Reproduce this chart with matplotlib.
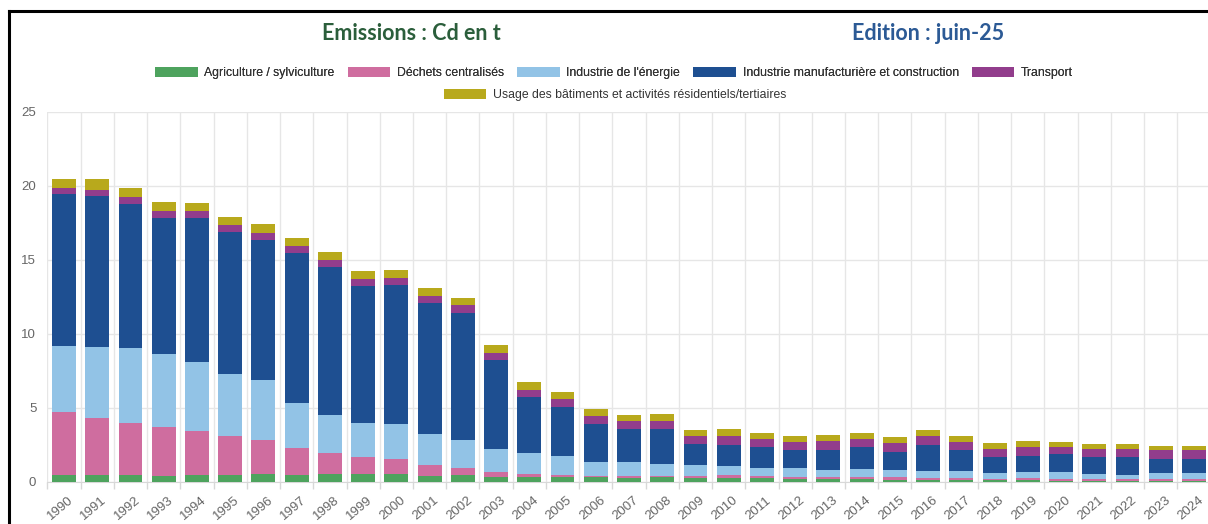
import matplotlib.pyplot as plt
from matplotlib.lines import Line2D
import matplotlib.transforms as mtransforms
import numpy as np

plt.rcParams['font.family'] = ['Liberation Sans', 'DejaVu Sans']

# -----------------------------
# Data (t of Cd)
# -----------------------------
years = [str(y) for y in range(1990, 2025)]

agriculture = [0.45, 0.45, 0.43, 0.41, 0.43, 0.43, 0.52, 0.47, 0.54, 0.54, 0.54,
               0.41, 0.43, 0.29, 0.29, 0.29, 0.29, 0.25, 0.32, 0.27, 0.27, 0.23,
               0.20, 0.16, 0.16, 0.14, 0.11, 0.11, 0.09, 0.09, 0.07, 0.07, 0.07,
               0.07, 0.07]
dechets = [4.28, 3.85, 3.56, 3.26, 2.99, 2.66, 2.30, 1.80, 1.42, 1.13, 1.01,
           0.69, 0.49, 0.39, 0.23, 0.16, 0.09, 0.11, 0.09, 0.11, 0.16, 0.13,
           0.14, 0.18, 0.18, 0.18, 0.14, 0.16, 0.11, 0.16, 0.13, 0.11, 0.09,
           0.11, 0.11]
energie = [4.46, 4.80, 5.04, 4.93, 4.67, 4.18, 4.05, 3.02, 2.57, 2.29, 2.35,
           2.14, 1.87, 1.55, 1.39, 1.28, 0.93, 0.99, 0.81, 0.72, 0.65, 0.56,
           0.56, 0.45, 0.49, 0.47, 0.47, 0.45, 0.36, 0.40, 0.43, 0.32, 0.27,
           0.41, 0.38]
manufacturiere = [10.25, 10.18, 9.71, 9.24, 9.75, 9.62, 9.46, 10.18, 9.97, 9.28, 9.39,
                  8.81, 8.63, 5.99, 3.79, 3.34, 2.59, 2.19, 2.36, 1.42, 1.42, 1.40,
                  1.26, 1.35, 1.49, 1.24, 1.78, 1.40, 1.08, 1.11, 1.22, 1.14, 1.21,
                  0.96, 0.99]
transport = [0.40, 0.45, 0.47, 0.45, 0.47, 0.43, 0.45, 0.48, 0.48, 0.45, 0.47,
             0.52, 0.52, 0.47, 0.52, 0.52, 0.54, 0.54, 0.52, 0.54, 0.56, 0.54,
             0.54, 0.59, 0.56, 0.58, 0.56, 0.58, 0.59, 0.58, 0.49, 0.54, 0.59,
             0.57, 0.57]
batiments = [0.61, 0.70, 0.63, 0.61, 0.54, 0.59, 0.61, 0.54, 0.56, 0.57, 0.54,
             0.49, 0.49, 0.52, 0.51, 0.47, 0.45, 0.45, 0.47, 0.43, 0.48, 0.41,
             0.39, 0.45, 0.39, 0.41, 0.41, 0.39, 0.36, 0.39, 0.32, 0.34, 0.29,
             0.27, 0.29]

series = [
    ("Agriculture / sylviculture", agriculture, "#4ea35e"),
    ("Déchets centralisés", dechets, "#cf6d9f"),
    ("Industrie de l'énergie", energie, "#92c3e6"),
    ("Industrie manufacturière et construction", manufacturiere, "#1e4f91"),
    ("Transport", transport, "#923d8c"),
    ("Usage des bâtiments et activités résidentiels/tertiaires", batiments, "#b8a91c"),
]

# -----------------------------
# Figure
# -----------------------------
fig = plt.figure(figsize=(12.08, 5.24), dpi=100)
ax = fig.add_axes([47.4 / 1208, 1 - 481.7 / 524, (1210.6 - 47.4) / 1208, 370 / 524])

x = np.arange(len(years))
bottom = np.zeros(len(years))
handles = []
for label, vals, color in series:
    b = ax.bar(x, vals, bottom=bottom, width=0.72, color=color, label=label, zorder=3)
    handles.append(b)
    bottom += np.array(vals)

ax.set_xlim(-0.5, len(years) - 0.5)
ax.set_ylim(0, 25)
ax.set_yticks([0, 5, 10, 15, 20, 25])
ax.tick_params(axis='y', length=0, pad=8, labelsize=9.5, labelcolor='#666666')

ax.set_xticks(x)
ax.set_xticklabels(years, rotation=40, ha='right', rotation_mode='anchor',
                   fontsize=9.5, color='#666666')
ax.tick_params(axis='x', which='major', length=0, pad=9)
# nudge the rotated labels a little to the right, as in the original
shift = mtransforms.ScaledTranslation(4 / 100, 0, fig.dpi_scale_trans)
for lbl in ax.get_xticklabels():
    lbl.set_transform(lbl.get_transform() + shift)
ax.set_xticks(np.arange(-0.5, len(years), 1), minor=True)
ax.tick_params(axis='x', which='minor', length=5, color='#d8d8d8', width=1)

ax.grid(axis='y', color='#e6e6e6', linewidth=1, zorder=0)
ax.grid(axis='x', which='minor', color='#e6e6e6', linewidth=1, zorder=0)
ax.grid(axis='x', which='major', visible=False)
for s in ['top', 'right', 'left']:
    ax.spines[s].set_visible(False)
ax.spines['bottom'].set_color('#d8d8d8')

# titles
fig.text(411 / 1208, 1 - 33 / 524, "Emissions : Cd en t", ha='center', va='center',
         fontsize=15.5, fontweight='bold', color='#2b5e3b', family='Lato')
fig.text(928 / 1208, 1 - 33 / 524, "Edition : juin-25", ha='center', va='center',
         fontsize=15.5, fontweight='bold', color='#2c5a95', family='Lato')

# legend: 5 items on first row, last one centred on second row
leg_kw = dict(frameon=False, fontsize=8.8, handlelength=3.5, handleheight=0.85,
              handletextpad=0.55, columnspacing=1.05, borderaxespad=0,
              labelcolor='#333333')
leg1 = fig.legend(handles[:5], [s[0] for s in series[:5]], ncol=5,
                  loc='center', bbox_to_anchor=(614 / 1208, 1 - 73 / 524), **leg_kw)
fig.add_artist(leg1)
fig.legend(handles[5:], [series[5][0]], ncol=1, loc='center',
           bbox_to_anchor=(615 / 1208, 1 - 95 / 524), **leg_kw)

# screenshot frame
fig.add_artist(Line2D([9 / 1208, 1], [1 - 11 / 524, 1 - 11 / 524], color='black', lw=2.2))
fig.add_artist(Line2D([9 / 1208, 9 / 1208], [0, 1 - 11 / 524], color='black', lw=2.2))

plt.savefig('out.png', dpi=100)
